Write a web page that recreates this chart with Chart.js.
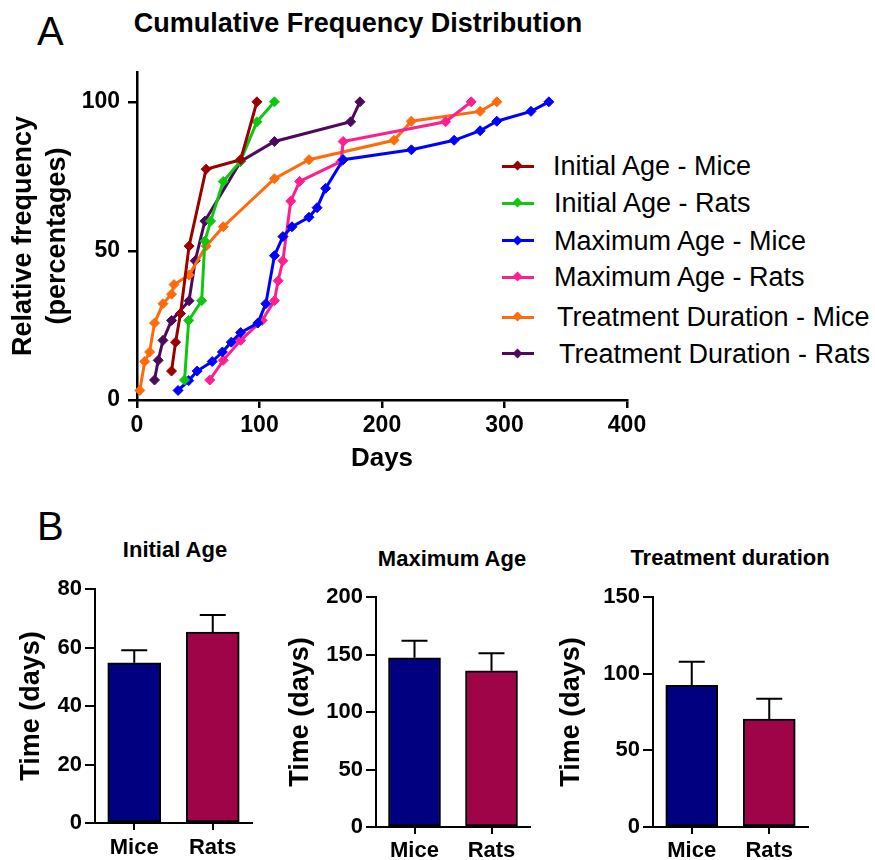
<!DOCTYPE html>
<html>
<head>
<meta charset="utf-8">
<script src="https://cdn.jsdelivr.net/npm/chart.js@4.4.1/dist/chart.umd.min.js"></script>
<style>
  html, body { margin: 0; padding: 0; background: #fff; }
  body { width: 875px; height: 860px; position: relative; overflow: hidden; font-family: "Liberation Sans", Arial, sans-serif; color: #000; }
  canvas { position: absolute; }
  .plabel { position: absolute; font-size: 40px; line-height: 40px; }
  #titleA { position: absolute; left: 58px; width: 600px; top: 8px; text-align: center; font-weight: bold; font-size: 27px; line-height: 30px; white-space: nowrap; }
  .ptitle { position: absolute; width: 300px; text-align: center; font-weight: bold; font-size: 22px; line-height: 26px; white-space: nowrap; }
  .lg-row { position: absolute; left: 502px; height: 30px; display: flex; align-items: center; font-size: 27px; line-height: 30px; white-space: nowrap; }
  .lg-mark { position: relative; width: 32px; height: 30px; flex: none; }
  .lg-line { position: absolute; left: 0; right: 0; top: 13.5px; height: 3px; }
  .lg-dia { position: absolute; left: 12px; top: 11px; width: 7px; height: 7px; transform: rotate(45deg); }
</style>
</head>
<body>
<div class="plabel" style="left:37px; top:11px;">A</div>
<div class="plabel" style="left:37px; top:506px;">B</div>
<div id="titleA">Cumulative Frequency Distribution</div>
<div id="legendA"></div>
<div class="ptitle" style="left:25px; top:537px;">Initial Age</div>
<div class="ptitle" style="left:302px; top:546px;">Maximum Age</div>
<div class="ptitle" style="left:580px; top:545px;">Treatment duration</div>
<canvas id="chartA" width="716" height="480" style="left:0; top:0;"></canvas>
<canvas id="bar1" width="275" height="340" style="left:0; top:520px;"></canvas>
<canvas id="bar2" width="275" height="340" style="left:280px; top:520px;"></canvas>
<canvas id="bar3" width="320" height="340" style="left:555px; top:520px;"></canvas>
<script>
// ---------- Panel A data (days, cumulative %) ----------
const iaMiceDays = [28.2, 31.5, 35.5, 42.5, 56.4, 84.6, 97.9];
const iaMicePct  = [9.7, 19.4, 29.0, 51.6, 77.4, 80.6, 100];
const iaRatsDays = [38.8, 42.2, 52.8, 55.4, 60.1, 70.4, 84.3, 97.9, 112.2];
const iaRatsPct  = [6.7, 26.7, 33.3, 53.3, 60.0, 73.3, 80.0, 93.3, 100];
const maMiceDays = [33.5, 42.2, 49.1, 61.4, 69.7, 77.0, 84.6, 98.6, 105.2, 112.2, 119.1, 126.5, 140.4, 147.0, 154.0, 168.3, 224.0, 258.9, 280.1, 293.7, 321.6, 336.2];
const maMicePct  = [3.2, 6.5, 9.7, 12.9, 16.1, 19.4, 22.6, 25.8, 32.3, 48.4, 54.8, 58.1, 61.3, 64.5, 71.0, 80.6, 83.9, 87.1, 90.3, 93.5, 96.8, 100];
const maRatsDays = [59.4, 70.4, 84.6, 102.2, 112.2, 115.2, 119.1, 125.5, 132.8, 166.6, 168.3, 251.9, 272.8];
const maRatsPct  = [6.7, 13.3, 20.0, 26.7, 33.3, 40.0, 46.7, 66.7, 73.3, 80.0, 86.7, 93.3, 100];
const tdMiceDays = [2.3, 6.3, 10.3, 14.3, 21.2, 28.2, 30.2, 42.5, 56.4, 70.4, 112.2, 140.4, 209.8, 224.0, 280.1, 293.7];
const tdMicePct  = [3.2, 12.9, 16.1, 25.8, 32.3, 35.5, 38.7, 41.9, 51.6, 58.1, 74.2, 80.6, 87.1, 93.5, 96.8, 100];
const tdRatsDays = [14.3, 17.3, 21.2, 28.2, 42.5, 47.5, 55.4, 84.6, 112.2, 174.4, 182.0];
const tdRatsPct  = [6.7, 13.3, 20.0, 26.7, 33.3, 46.7, 60.0, 80.0, 86.7, 93.3, 100];

const seriesLabels = ['Initial Age - Mice', 'Initial Age - Rats', 'Maximum Age - Mice', 'Maximum Age - Rats', 'Treatment Duration - Mice', 'Treatment Duration - Rats'];
const seriesDays = [iaMiceDays, iaRatsDays, maMiceDays, maRatsDays, tdMiceDays, tdRatsDays];
const seriesPct  = [iaMicePct, iaRatsPct, maMicePct, maRatsPct, tdMicePct, tdRatsPct];
const seriesColors = ['#9B0000', '#11C611', '#0000FF', '#FF1E8E', '#FF6B0A', '#4D0A5C'];

// ---------- Panel B data (mean, SEM) ----------
const groups = ['Mice', 'Rats'];
const initialAgeMean = [54.8, 65.3];
const initialAgeSem  = [4.3, 5.8];
const maxAgeMean = [147.2, 135.9];
const maxAgeSem  = [14.8, 15.1];
const treatDurMean = [92.4, 70.4];
const treatDurSem  = [15.4, 13.3];
const barColors = ['#000080', '#9E0447'];

Chart.defaults.font.family = '"Liberation Sans", Arial, sans-serif';
Chart.defaults.color = '#000';

const boldTick = (size) => ({ size: size, weight: 'bold' });

// ---------- Panel A ----------
const chartA = new Chart(document.getElementById('chartA'), {
  type: 'scatter',
  data: {
    datasets: seriesLabels.map((lab, i) => ({
      label: lab,
      data: seriesDays[i].map((d, j) => ({ x: d, y: seriesPct[i][j] })),
      borderColor: seriesColors[i],
      backgroundColor: seriesColors[i],
      borderWidth: 3,
      showLine: true,
      tension: 0,
      pointStyle: 'rectRot',
      pointRadius: 5,
      pointBorderWidth: 1,
      clip: false
    }))
  },
  options: {
    responsive: false,
    animation: false,
    devicePixelRatio: 1,
    layout: { padding: { left: 0, top: 72, right: 89, bottom: 0 } },
    plugins: { legend: { display: false }, tooltip: { enabled: false }, title: { display: false } },
    scales: {
      x: {
        type: 'linear', min: 0, max: 400,
        ticks: { stepSize: 100, padding: 4, font: boldTick(23), color: '#000' },
        grid: { drawOnChartArea: false, drawTicks: true, tickLength: 8, color: '#000', lineWidth: 2.5 },
        border: { color: '#000', width: 2.5 },
        title: { display: true, text: 'Days', font: { size: 26, weight: 'bold' }, color: '#000', padding: { top: 0, bottom: 6 } },
        afterFit: (s) => { s.height = 80; }
      },
      y: {
        type: 'linear', min: 0, max: 110,
        ticks: { stepSize: 50, padding: 8, font: boldTick(23), color: '#000' },
        afterBuildTicks: (s) => { s.ticks = s.ticks.filter(t => t.value % 50 === 0); },
        grid: { drawOnChartArea: false, drawTicks: true, tickLength: 9, color: '#000', lineWidth: 2.5 },
        border: { color: '#000', width: 2.5 },
        title: { display: true, text: ['Relative frequency', '(percentages)'], font: { size: 27, weight: 'bold', lineHeight: 1.27 }, color: '#000', padding: { top: 6, bottom: 0 } },
        afterFit: (s) => { s.width = 137; }
      }
    }
  }
});

// HTML legend built from the chart datasets
(function buildLegend() {
  const rowCenters = [166, 203, 240.5, 277, 317, 353.5];
  const textShift = [0, 1, 1, 1, 4, 6];
  const host = document.getElementById('legendA');
  chartA.data.datasets.forEach((ds, i) => {
    const row = document.createElement('div');
    row.className = 'lg-row';
    row.style.top = (rowCenters[i] - 15) + 'px';
    const mark = document.createElement('span');
    mark.className = 'lg-mark';
    const line = document.createElement('span');
    line.className = 'lg-line';
    line.style.background = ds.borderColor;
    const dia = document.createElement('span');
    dia.className = 'lg-dia';
    dia.style.background = ds.borderColor;
    mark.appendChild(line); mark.appendChild(dia);
    const txt = document.createElement('span');
    txt.textContent = ds.label;
    txt.style.marginLeft = (19 + textShift[i]) + 'px';
    row.appendChild(mark); row.appendChild(txt);
    host.appendChild(row);
  });
})();

// ---------- Panel B ----------
const errorBarPlugin = {
  id: 'errorBars',
  afterDatasetsDraw(chart, args, opts) {
    const errs = opts.errors || [];
    const ds = chart.data.datasets[0];
    const meta = chart.getDatasetMeta(0);
    const yScale = chart.scales.y;
    const ctx = chart.ctx;
    ctx.save();
    ctx.strokeStyle = '#000';
    ctx.lineWidth = 2;
    meta.data.forEach((bar, i) => {
      const v = ds.data[i];
      const yBar = yScale.getPixelForValue(v);
      const yTop = yScale.getPixelForValue(v + errs[i]);
      ctx.beginPath();
      ctx.moveTo(bar.x, yBar);
      ctx.lineTo(bar.x, yTop);
      ctx.moveTo(bar.x - 13, yTop);
      ctx.lineTo(bar.x + 13, yTop);
      ctx.stroke();
    });
    ctx.restore();
  }
};

function makeBar(canvasId, means, sems, yMax, yStep, L) {
  return new Chart(document.getElementById(canvasId), {
    type: 'bar',
    data: {
      labels: groups,
      datasets: [{
        data: means,
        backgroundColor: barColors,
        borderColor: '#000',
        borderWidth: 2,
        borderSkipped: false,
        barThickness: L.bar
      }]
    },
    options: {
      responsive: false,
      animation: false,
      devicePixelRatio: 1,
      layout: { padding: { left: 0, right: L.padRight, top: L.padTop, bottom: 0 } },
      plugins: {
        legend: { display: false },
        tooltip: { enabled: false },
        title: { display: false },
        errorBars: { errors: sems }
      },
      scales: {
        x: {
          grid: { offset: false, drawOnChartArea: false, drawTicks: true, tickLength: 7, color: '#000', lineWidth: 2 },
          border: { color: '#000', width: 2 },
          ticks: { font: boldTick(22), color: '#000', padding: L.xPad },
          afterFit: (s) => { s.height = L.xHeight; }
        },
        y: {
          min: 0, max: yMax,
          ticks: { stepSize: yStep, font: boldTick(22), color: '#000', padding: 3 },
          grid: { drawOnChartArea: false, drawTicks: true, tickLength: 10, color: '#000', lineWidth: 2 },
          border: { color: '#000', width: 2 },
          title: { display: true, text: 'Time (days)', font: { size: 27, weight: 'bold' }, color: '#000', padding: { top: L.yTitlePad, bottom: 0 } },
          afterFit: (s) => { s.width = L.yWidth; }
        }
      }
    },
    plugins: [errorBarPlugin]
  });
}

makeBar('bar1', initialAgeMean, initialAgeSem, 80, 20,
  { yWidth: 95, yTitlePad: 15.8, padRight: 23, padTop: 69, xHeight: 37, xPad: 5, bar: 53 });
makeBar('bar2', maxAgeMean, maxAgeSem, 200, 50,
  { yWidth: 96, yTitlePad: 4.8, padRight: 25, padTop: 77, xHeight: 33, xPad: 4, bar: 52 });
makeBar('bar3', treatDurMean, treatDurSem, 150, 50,
  { yWidth: 98, yTitlePad: 0, padRight: 67, padTop: 77, xHeight: 33, xPad: 4, bar: 52 });
</script>
</body>
</html>
